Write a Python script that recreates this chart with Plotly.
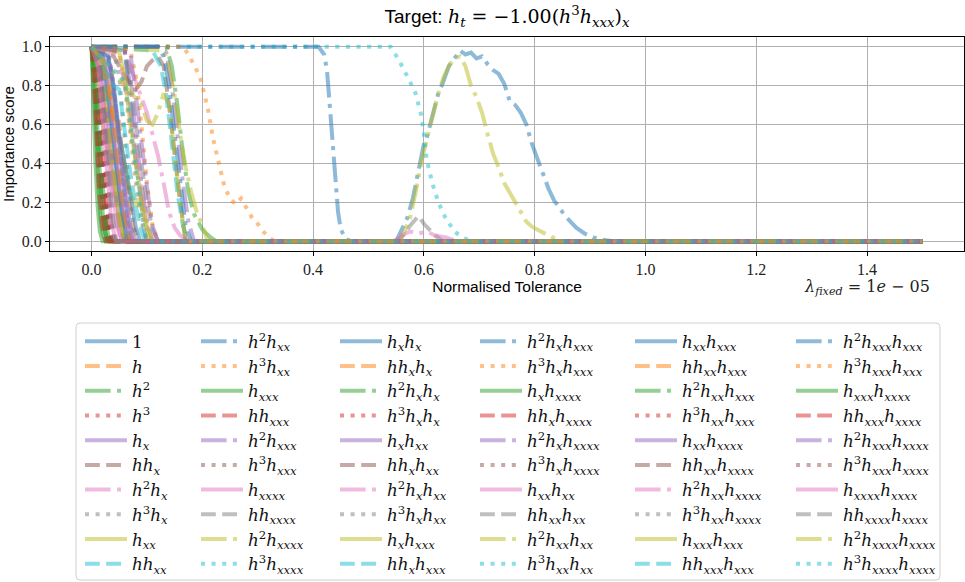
import plotly.graph_objects as go

# ---------------------------------------------------------------- data
# library terms, in legend order (column by column)
TERMS = [
    "1", "h", "h^2", "h^3", "h_x", "h h_x", "h^2 h_x", "h^3 h_x", "h_xx", "h h_xx",
    "h^2 h_xx", "h^3 h_xx", "h_xxx", "h h_xxx", "h^2 h_xxx", "h^3 h_xxx", "h_xxxx", "h h_xxxx", "h^2 h_xxxx", "h^3 h_xxxx",
    "h_x h_x", "h h_x h_x", "h^2 h_x h_x", "h^3 h_x h_x", "h_x h_xx", "h h_x h_xx", "h^2 h_x h_xx", "h^3 h_x h_xx", "h_x h_xxx", "h h_x h_xxx",
    "h^2 h_x h_xxx", "h^3 h_x h_xxx", "h_x h_xxxx", "h h_x h_xxxx", "h^2 h_x h_xxxx", "h^3 h_x h_xxxx", "h_xx h_xx", "h h_xx h_xx", "h^2 h_xx h_xx", "h^3 h_xx h_xx",
    "h_xx h_xxx", "h h_xx h_xxx", "h^2 h_xx h_xxx", "h^3 h_xx h_xxx", "h_xx h_xxxx", "h h_xx h_xxxx", "h^2 h_xx h_xxxx", "h^3 h_xx h_xxxx", "h_xxx h_xxx", "h h_xxx h_xxx",
    "h^2 h_xxx h_xxx", "h^3 h_xxx h_xxx", "h_xxx h_xxxx", "h h_xxx h_xxxx", "h^2 h_xxx h_xxxx", "h^3 h_xxx h_xxxx", "h_xxxx h_xxxx", "h h_xxxx h_xxxx", "h^2 h_xxxx h_xxxx", "h^3 h_xxxx h_xxxx",
]

# (normalised tolerance, importance score), one pair per term
T00 = ([0, .02, .03, .04, .05, .06, .07, 1.5], [1, .95, .75, .5, .25, .08, 0, 0])
T01 = ([0, .015, .025, .035, .045, .055, .065, 1.5], [1, .9, .7, .5, .3, .1, 0, 0])
T02 = ([0, .005, .01, .016, .022, .028, 1.5], [1, .88, .62, .3, .08, 0, 0])
T03 = ([0, .006, .012, .018, .024, .03, 1.5], [1, .8, .52, .25, .08, 0, 0])
T04 = ([0, .02, .03, .04, .05, .06, 1.5], [1, .85, .6, .35, .12, 0, 0])
T05 = ([0, .006, .012, .019, .026, .033, 1.5], [1, .9, .6, .3, .08, 0, 0])
T06 = ([0, .06, .07, .08, .09, .1, .11, .12, .13, .14, .15, .16, .175, 1.5],
       [1, .97, .9, .82, .74, .66, .55, .44, .3, .15, .07, .03, 0, 0])
T07 = ([0, .03, .04, .05, .06, .07, 1.5], [1, .97, .8, .5, .2, 0, 0])
T08 = ([0, .01, .02, .03, .04, .05, .06, 1.5], [1, .8, .6, .45, .3, .12, 0, 0])
T09 = ([0, .02, .03, .04, .05, .06, .07, 1.5], [1, .8, .75, .6, .35, .1, 0, 0])
T10 = ([0, .06, .07, .08, .09, .095, .1, .55, .555, .57, .58, .59, .6, .605, .615, .625, .635, .645,
        .655, .665, .675, .685, .695, .705, .715, .725, .735, .745, .755, .765, .775, .785, .795,
        .805, .815, .825, .835, .845, .855, .865, .875, .89, .905, .92, .94, 1.5],
       [1, .98, .7, .4, .2, .06, 0, 0, .03, .12, .22, .35, .5, .53, .65, .75, .82, .9,
        .94, .98, .96, .97, .94, .95, .91, .88, .86, .81, .72, .7, .66, .6, .5,
        .42, .34, .27, .21, .17, .13, .1, .07, .04, .02, .01, 0, 0])
T11 = ([0, .05, .06, .07, .08, .09, .1, 1.5], [1, .97, .8, .55, .3, .1, 0, 0])
T12 = ([0, .004, .008, .012, .016, .02, .025, 1.5], [1, .8, .55, .3, .12, .04, 0, 0])
T13 = ([0, .007, .013, .019, .025, .032, 1.5], [1, .9, .62, .3, .1, 0, 0])
T14 = ([0, .06, .07, .08, .09, .1, .11, 1.5], [1, .97, .8, .55, .3, .1, 0, 0])
T15 = ([0, .01, .017, .024, .031, .038, 1.5], [1, .9, .6, .3, .08, 0, 0])
T16 = ([0, .015, .025, .035, .045, .055, 1.5], [1, .88, .62, .35, .1, 0, 0])
T17 = ([0, .02, .03, .04, .05, .06, .55, .56, .575, .59, .6, .61, .62, .635, 1.5],
       [1, .9, .6, .3, .08, 0, 0, .02, .08, .13, .09, .06, .03, 0, 0])
T18 = ([0, .02, .03, .04, .05, .06, .555, .565, .575, .585, .595, .605, .615, .625, .635, .645, .655,
        .665, .675, .685, .695, .705, .715, .725, .735, .745, .755, .765, .775, .785, .795, .81,
        .825, .84, .85, 1.5],
       [1, .9, .6, .35, .1, 0, 0, .05, .12, .25, .4, .52, .64, .75, .84, .9, .94,
        .95, .9, .8, .74, .66, .55, .45, .38, .3, .25, .2, .15, .1, .075, .05,
        .03, .01, 0, 0])
T19 = ([0, .54, .555, .565, .575, .585, .595, .6, .605, .615, .625, .635, .645, .655, .67, .685, 1.5],
       [1, 1, .93, .88, .82, .76, .65, .55, .42, .3, .21, .14, .09, .05, .02, 0, 0])
T20 = ([0, .025, .035, .045, .055, .065, 1.5], [1, .9, .65, .4, .15, 0, 0])
T21 = ([0, .03, .04, .05, .055, .065, .075, .085, 1.5], [1, .85, .6, .62, .45, .25, .08, 0, 0])
T22 = ([0, .135, .145, .155, .165, .175, .185, .2, .215, .225, 1.5],
       [1, 1, .9, .7, .45, .25, .14, .06, .02, 0, 0])
T23 = ([0, .009, .015, .021, .027, .034, 1.5], [1, .9, .7, .4, .12, 0, 0])
T24 = ([0, .03, .04, .05, .06, .07, .08, 1.5], [1, .95, .75, .5, .28, .08, 0, 0])
T25 = ([0, .04, .06, .08, .09, .1, .11, .12, .13, .14, .15, .16, .17, 1.5],
       [1, .95, .85, .78, .82, .9, .93, .95, .9, .7, .45, .2, 0, 0])
T26 = ([0, .015, .025, .035, .045, .055, .545, .56, .575, .59, .605, .62, .64, .66, 1.5],
       [1, .9, .6, .3, .08, 0, 0, .03, .05, .04, .05, .03, .02, 0, 0])
T27 = ([0, .04, .05, .06, .07, .08, 1.5], [1, .98, .85, .55, .2, 0, 0])
T28 = ([0, .03, .045, .06, .07, .08, .085, .095, .105, 1.5], [1, .85, .6, .4, .25, .18, .22, .12, 0, 0])
T29 = ([0, .11, .125, .135, .145, .155, .165, .175, 1.5], [1, .98, .9, .75, .5, .25, .08, 0, 0])
T30 = ([0, .41, .42, .425, .43, .435, .44, .445, .45, .46, .47, 1.5],
       [1, 1, .96, .88, .7, .5, .3, .15, .06, .01, 0, 0])
T31 = ([0, .165, .175, .185, .195, .2, .21, .22, .23, .24, .25, .26, .27, .28, .29, .3, .31, .32, .33, 1.5],
       [1, 1, .96, .9, .85, .8, .68, .52, .4, .28, .22, .19, .22, .17, .12, .09, .05, .02, 0, 0])
T32 = ([0, .003, .007, .011, .015, .02, 1.5], [1, .7, .4, .18, .05, 0, 0])
T33 = ([0, .01, .016, .022, .028, .035, 1.5], [1, .92, .65, .35, .1, 0, 0])
T34 = ([0, .12, .135, .145, .155, .165, .175, .185, 1.5], [1, 1, .97, .8, .55, .3, .1, 0, 0])
T35 = ([0, .012, .02, .027, .034, .042, 1.5], [1, .93, .65, .33, .1, 0, 0])
T36 = ([0, .025, .035, .045, .055, .065, .075, 1.5], [1, .92, .7, .45, .22, .05, 0, 0])
T37 = ([0, .06, .07, .08, .09, .1, .11, .12, 1.5], [1, .98, .85, .6, .4, .2, .06, 0, 0])
T38 = ([0, .13, .14, .15, .16, .17, .18, .19, .2, .21, 1.5], [1, .98, .9, .75, .55, .38, .25, .15, .08, 0, 0])
T39 = ([0, .02, .03, .04, .05, .06, .07, 1.5], [1, .85, .72, .78, .5, .2, 0, 0])
T40 = ([0, .03, .04, .05, .06, .07, .08, .088, 1.5], [1, .95, .8, .55, .4, .22, .07, 0, 0])
T41 = ([0, .02, .03, .04, .05, .06, .07, 1.5], [1, .9, .8, .6, .35, .12, 0, 0])
T42 = ([0, .008, .014, .02, .026, .032, 1.5], [1, .9, .6, .3, .1, 0, 0])
T43 = ([0, .012, .018, .024, .03, .037, 1.5], [1, .95, .72, .4, .12, 0, 0])
T44 = ([0, .035, .045, .055, .065, .075, 1.5], [1, .9, .65, .38, .12, 0, 0])
T45 = ([0, .014, .021, .028, .035, .043, 1.5], [1, .95, .7, .38, .1, 0, 0])
T46 = ([0, .05, .06, .07, .08, .09, .1, .11, 1.5], [1, .95, .8, .65, .45, .25, .08, 0, 0])
T47 = ([0, .01, .018, .026, .034, .04, 1.5], [1, .95, .72, .42, .13, 0, 0])
T48 = ([0, .05, .06, .07, .08, .09, .1, .11, 1.5], [1, .97, .85, .6, .4, .22, .08, 0, 0])
T49 = ([0, .04, .05, .06, .07, .08, .09, .097, 1.5], [1, .8, .78, .55, .35, .18, .05, 0, 0])
T50 = ([0, .12, .13, .14, .15, .16, .165, .17, .18, 1.5], [1, 1, .95, .8, .55, .3, .15, .07, 0, 0])
T51 = ([0, .07, .08, .09, .1, .11, .12, 1.5], [1, .98, .85, .6, .3, .08, 0, 0])
T52 = ([0, .006, .012, .018, .024, .03, 1.5], [1, .85, .5, .2, .05, 0, 0])
T53 = ([0, .004, .009, .014, .02, .026, 1.5], [1, .85, .55, .25, .07, 0, 0])
T54 = ([0, .07, .08, .09, .1, .11, .12, 1.5], [1, .97, .75, .5, .28, .08, 0, 0])
T55 = ([0, .008, .014, .02, .027, .034, 1.5], [1, .88, .6, .32, .1, 0, 0])
T56 = ([0, .012, .02, .028, .036, .044, 1.5], [1, .9, .62, .33, .1, 0, 0])
T57 = ([0, .015, .022, .03, .038, .045, 1.5], [1, .92, .7, .4, .12, 0, 0])
T58 = ([0, .09, .1, .11, .12, .13, .14, .15, .16, .17, 1.5], [1, .7, .62, .6, .66, .76, .7, .45, .2, 0, 0])
T59 = ([0, .05, .06, .07, .08, .09, .1, 1.5], [1, .85, .82, .6, .35, .12, 0, 0])

SERIES = [T00, T01, T02, T03, T04, T05, T06, T07, T08, T09,
          T10, T11, T12, T13, T14, T15, T16, T17, T18, T19,
          T20, T21, T22, T23, T24, T25, T26, T27, T28, T29,
          T30, T31, T32, T33, T34, T35, T36, T37, T38, T39,
          T40, T41, T42, T43, T44, T45, T46, T47, T48, T49,
          T50, T51, T52, T53, T54, T55, T56, T57, T58, T59]

X_TICKS = [0.0, 0.2, 0.4, 0.6, 0.8, 1.0, 1.2, 1.4]
Y_TICKS = [0.0, 0.2, 0.4, 0.6, 0.8, 1.0]

# ---------------------------------------------------------------- styles
COLORS = ["#1f77b4", "#ff7f0e", "#2ca02c", "#d62728", "#9467bd",
          "#8c564b", "#e377c2", "#7f7f7f", "#bcbd22", "#17becf"]
LW = 4
DASHES = ["solid", "14.8px,6.4px", "25.6px,6.4px,4px,6.4px", "4px,6.6px"]

SERIF = "Liberation Serif, DejaVu Serif, serif"
MATH = "DejaVu Serif, Liberation Serif, serif"
SANS = "Liberation Sans, DejaVu Sans, sans-serif"

W, H = 965, 582
PL, PR, PT, PB = 50, 964, 37, 251   # plot area in pixels


def term_html(term):
    if term == "1":
        return "1"
    out = ""
    for p in term.split():
        if p.startswith("h_"):
            out += "<i>h</i><sub><i>%s</i></sub>" % p[2:]
        elif p.startswith("h^"):
            out += "<i>h</i><sup>%s</sup>" % p[2:]
        else:
            out += "<i>h</i>"
    return out


def px_to_paper(px, py):
    return (px - PL) / (PR - PL), (PB - py) / (PB - PT)


fig = go.Figure()
for i, (term, (xs, ys)) in enumerate(zip(TERMS, SERIES)):
    col = i // 10
    fig.add_trace(go.Scatter(
        x=xs, y=ys, mode="lines", name=term_html(term),
        line=dict(color=COLORS[i % 10], width=LW, dash=DASHES[i % 4]),
        opacity=0.5, legend="legend" if col == 0 else "legend%d" % (col + 1),
        legendgroup="g%d" % i, hoverinfo="skip",
    ))

# legend columns (pixel x of label text) and frame
col_text_x = [132, 248, 387, 527, 682, 843]
ITEMW = 42
legend_top_px = 324
layout_legends = {}
for c, tx in enumerate(col_text_x):
    x, y = px_to_paper(tx - ITEMW - 10, legend_top_px)
    key = "legend" if c == 0 else "legend%d" % (c + 1)
    layout_legends[key] = dict(
        x=x, y=y, xanchor="left", yanchor="top", orientation="v",
        bgcolor="rgba(0,0,0,0)", borderwidth=0, traceorder="grouped",
        tracegroupgap=0, itemwidth=ITEMW,
        font=dict(family=MATH, size=16.7, color="#111111"),
    )

# rounded legend frame
fx0, fy0 = px_to_paper(76, 323)
fx1, fy1 = px_to_paper(940, 580)
rx = 4 / (PR - PL)
ry = 4 / (PB - PT)
frame_path = (f"M {fx0 + rx},{fy0} L {fx1 - rx},{fy0} Q {fx1},{fy0} {fx1},{fy0 - ry} "
              f"L {fx1},{fy1 + ry} Q {fx1},{fy1} {fx1 - rx},{fy1} "
              f"L {fx0 + rx},{fy1} Q {fx0},{fy1} {fx0},{fy1 + ry} "
              f"L {fx0},{fy0 - ry} Q {fx0},{fy0} {fx0 + rx},{fy0} Z")

lam_x, lam_y = px_to_paper(867, 287)

fig.update_layout(
    width=W, height=H,
    margin=dict(l=PL, r=W - PR, t=PT, b=H - PB, autoexpand=False),
    paper_bgcolor="white", plot_bgcolor="white",
    title=dict(
        text=("Target: <span style='font-family:DejaVu Serif'><i>h</i><sub><i>t</i></sub> = "
              "−1.00(<i>h</i><sup>3</sup><i>h</i><sub><i>xxx</i></sub>)<sub><i>x</i></sub></span>"),
        x=0.5, xref="paper", xanchor="center", y=1 - 16 / H, yref="container", yanchor="middle",
        font=dict(family=SANS, size=19, color="black"),
    ),
    xaxis=dict(
        range=[-0.075, 1.575], tickvals=X_TICKS, ticktext=["%.1f" % v for v in X_TICKS],
        showgrid=True, gridcolor="#b0b0b0", gridwidth=1, zeroline=False,
        showline=True, linecolor="black", linewidth=1, mirror=True,
        ticks="outside", ticklen=4, tickwidth=1, tickcolor="black",
        tickfont=dict(family=SERIF, size=16, color="#222222"),
        title=dict(text="Normalised Tolerance", standoff=0,
                   font=dict(family=SANS, size=15.5, color="black")),
    ),
    yaxis=dict(
        range=[-0.05, 1.05], tickvals=Y_TICKS, ticktext=["%.1f" % v for v in Y_TICKS],
        showgrid=True, gridcolor="#b0b0b0", gridwidth=1, zeroline=False,
        showline=True, linecolor="black", linewidth=1, mirror=True,
        ticks="outside", ticklen=4, tickwidth=1, tickcolor="black",
        tickfont=dict(family=SERIF, size=16, color="#222222"),
        title=dict(text="Importance score", standoff=4,
                   font=dict(family=SANS, size=15, color="black")),
    ),
    shapes=[dict(type="path", path=frame_path, xref="paper", yref="paper",
                 line=dict(color="#d0d0d0", width=1), fillcolor="rgba(255,255,255,0)", layer="below")],
    annotations=[dict(
        text="<i>λ</i><sub><i>fixed</i></sub> = 1<i>e</i> − 05",
        x=lam_x, y=lam_y, xref="paper", yref="paper", xanchor="center", yanchor="middle",
        showarrow=False, font=dict(family=MATH, size=16, color="#222222"),
    )],
    **layout_legends,
)

fig.write_html("out.html")
